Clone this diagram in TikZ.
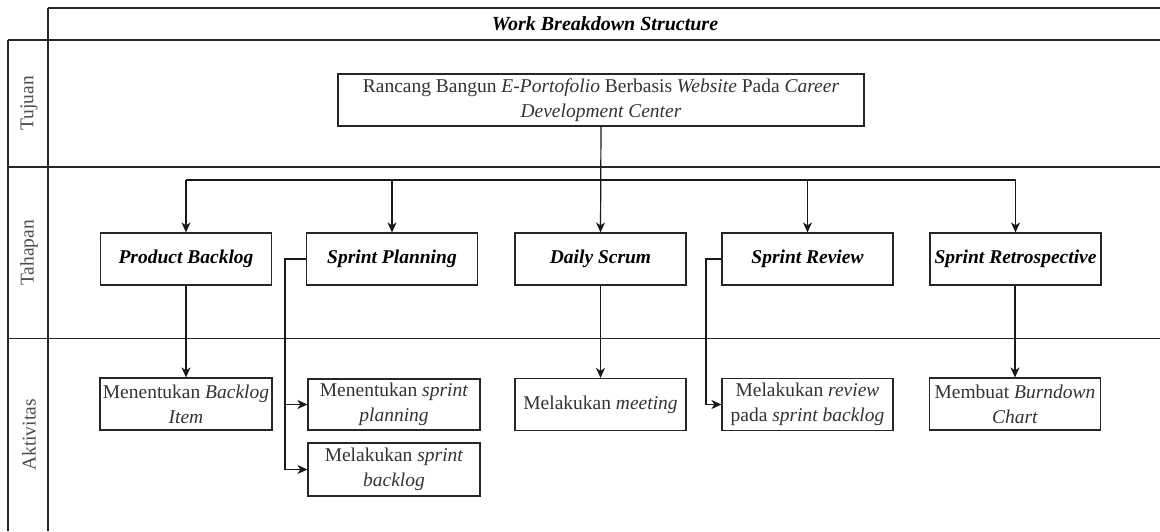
\documentclass[tikz,border=0pt]{standalone}
\usepackage{fontspec}
\setmainfont{Liberation Serif}
\usetikzlibrary{arrows.meta}
\begin{document}
\begin{tikzpicture}[x=1pt,y=-1pt,
  every node/.style={font=\fontsize{19.5}{25}\selectfont},
  box/.style={draw=black!85,line width=1.2pt,minimum height=52pt,inner sep=1.5pt,align=center,text=black!80},
  stagebox/.style={box,minimum width=171pt,font=\fontsize{19.5}{25}\selectfont\bfseries\itshape,text=black},
  actbox/.style={box,minimum width=171pt},
  arr/.style={line width=1.2pt,draw=black!90,-{Stealth[length=10pt,width=9pt,inset=3pt]}},
  conn/.style={line width=1.2pt,draw=black!90},
  grid/.style={line width=1.2pt,draw=black!85},
  lanelabel/.style={rotate=90,text=black!70}]
\useasboundingbox (0,0) rectangle (1160,531);
\fill[white] (0,0) rectangle (1160,531);
% frame
\draw[grid,line width=1.5pt] (48,8) -- (1160,8);
\draw[grid] (8,40) -- (48,40);
\draw[grid,line width=2.2pt] (48,40) -- (1160,40);
\draw[grid] (8,167) -- (1160,167);
\draw[grid] (8,338.5) -- (1160,338.5);
\draw[grid] (8,40) -- (8,531);
\draw[grid] (48,8) -- (48,531);
\node[font=\fontsize{20}{25}\selectfont\bfseries\itshape] (title) at (605,24) {Work Breakdown Structure};
\node[lanelabel] (l1) at (29,103.5) {Tujuan};
\node[lanelabel] (l2) at (29,253) {Tahapan};
\node[lanelabel] (l3) at (29,435) {Aktivitas};
% goal
\node[box,minimum width=526pt] (goal) at (601,100) {Rancang Bangun \textit{E-Portofolio} Berbasis \textit{Website} Pada \textit{Career}\\\textit{Development Center}};
% stages
\node[stagebox] (pb) at (186,259) {Product Backlog};
\node[stagebox] (sp) at (392,259) {Sprint Planning};
\node[stagebox] (ds) at (600.5,259) {Daily Scrum};
\node[stagebox] (sr) at (807.5,259) {Sprint Review};
\node[stagebox] (re) at (1015.5,259) {Sprint Retrospective};
% activities
\node[actbox,minimum width=172pt] (bi) at (186,404) {Menentukan \textit{Backlog}\\\textit{Item}};
\node[actbox,minimum width=172pt,minimum height=51pt] (sp1) at (394,404.5) {Menentukan \textit{sprint}\\\textit{planning}};
\node[actbox,minimum width=172pt,minimum height=53pt] (sp2) at (394,469.5) {Melakukan \textit{sprint}\\\textit{backlog}};
\node[actbox] (me) at (600.5,404.5) {Melakukan \textit{meeting}};
\node[actbox] (rv) at (807.5,404.5) {Melakukan \textit{review}\\pada \textit{sprint backlog}};
\node[actbox] (bc) at (1015,404) {Membuat \textit{Burndown}\\\textit{Chart}};
% connectors
\coordinate (bus) at (0,180);
\draw[arr] (goal.south) -- (ds.north);
\draw[conn] (bus -| pb.north) -- (bus -| re.north);
\draw[arr] (bus -| pb.north) -- (pb.north);
\draw[arr] (bus -| sp.north) -- (sp.north);
\draw[arr] (bus -| sr.north) -- (sr.north);
\draw[arr] (bus -| re.north) -- (re.north);
\draw[arr] (pb.south) -- (bi.north);
\draw[arr] (ds.south) -- (me.north);
\draw[arr] (re.south -| bc.north) -- (bc.north);
\coordinate (spx) at (285,259);
\coordinate (srx) at (706,259);
\draw[arr] (sp.west) -- (spx) |- (sp1.west);
\draw[arr] (spx) |- (sp2.west);
\draw[arr] (sr.west) -- (srx) |- (rv.west);
\end{tikzpicture}
\end{document}
